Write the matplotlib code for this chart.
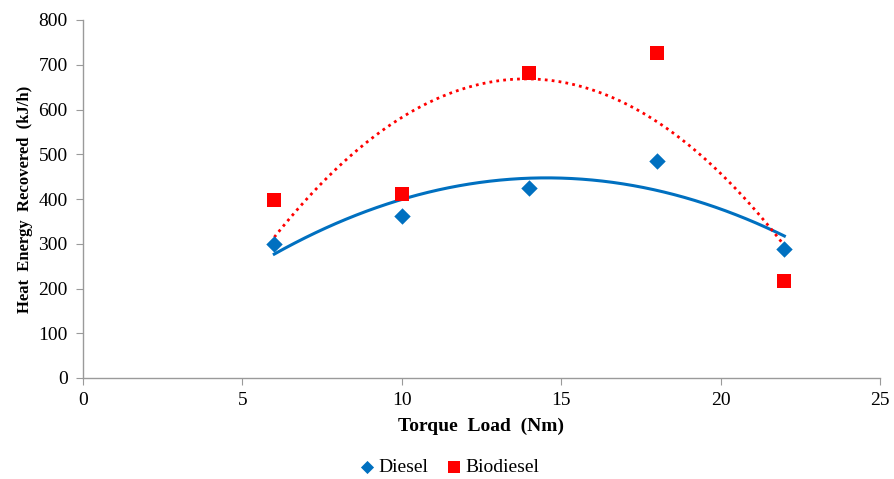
import numpy as np
import matplotlib
matplotlib.use("Agg")
import matplotlib.pyplot as plt

torque = [6, 10, 14, 18, 22]
diesel = [299, 362, 425, 485, 288]
biodiesel = [398, 411, 682, 726, 217]
xticks = [0, 5, 10, 15, 20, 25]
yticks = [0, 100, 200, 300, 400, 500, 600, 700, 800]

plt.rcParams['font.family'] = ['Liberation Serif', 'DejaVu Serif']

fig = plt.figure(figsize=(8.95, 4.79), dpi=100)
ax = fig.add_axes([83/895, 1-378/479, (880-83)/895, (378-20)/479])

blue = '#0070C0'
red = '#FF0000'

xs = np.linspace(min(torque), max(torque), 200)
cd = np.polyfit(torque, diesel, 2)
cb = np.polyfit(torque, biodiesel, 2)
ax.plot(xs, np.polyval(cd, xs), color=blue, lw=2.2, zorder=2)
ax.plot(xs, np.polyval(cb, xs), color=red, lw=2.0, ls=(0, (1, 1.5)), zorder=2)

ax.scatter(torque, diesel, marker='D', s=70, color=blue, zorder=3, label='Diesel', linewidths=0)
ax.scatter(torque, biodiesel, marker='s', s=110, color=red, zorder=3, label='Biodiesel', linewidths=0)

ax.set_xlim(0, 25)
ax.set_ylim(0, 800)
ax.set_xticks(xticks)
ax.set_yticks(yticks)
for s in ['top', 'right']:
    ax.spines[s].set_visible(False)
for s in ['left', 'bottom']:
    ax.spines[s].set_color('#9a9a9a')
    ax.spines[s].set_linewidth(1.0)
ax.tick_params(axis='both', colors='#9a9a9a', labelcolor='black', labelsize=14, length=5, direction='out')
ax.tick_params(axis='x', pad=5)
ax.tick_params(axis='y', pad=6)

ax.set_xlabel('Torque  Load  (Nm)', fontsize=14, fontweight='bold', labelpad=6)
ax.set_ylabel('Heat  Energy  Recovered  (kJ/h)', fontsize=12, fontweight='bold', labelpad=4)

fig.legend(handles=ax.collections[:], labels=['Diesel', 'Biodiesel'], loc='center',
           bbox_to_anchor=(448/895, 1-467/479), ncol=2, frameon=False, fontsize=14,
           handletextpad=0.1, columnspacing=0.8, handlelength=1.0, markerscale=0.8)

fig.savefig('out.png', dpi=100)
